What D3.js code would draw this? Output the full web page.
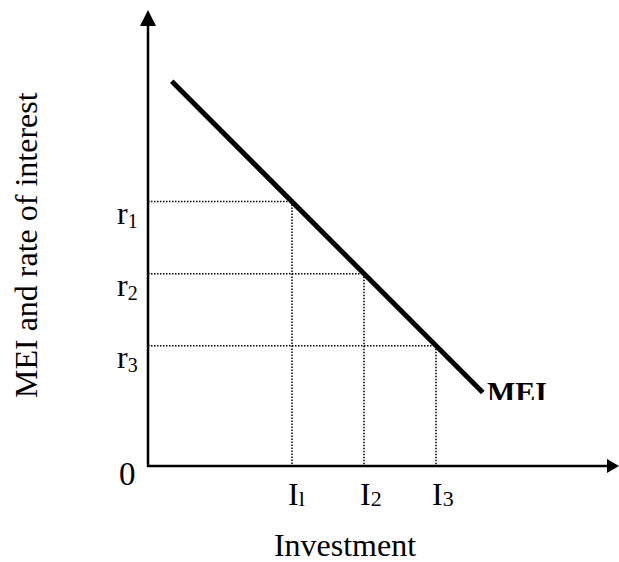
<!DOCTYPE html>
<html><head><meta charset="utf-8">
<script src="https://cdn.jsdelivr.net/npm/d3@7"></script>
<style>body{margin:0;background:#fff}svg{display:block}text{font-family:"Liberation Serif","Times New Roman",serif;fill:#000}</style>
</head><body>
<script>
// Data (abstract units)
const investLabels = ["I1","I2","I3"];
const investValues = [2, 3, 4];
const rateLabels = ["r1","r2","r3"];
const rateValues = [3.67, 2.67, 1.67];
const meiLine = [{inv:0.33, rate:5.34}, {inv:4.65, rate:1.02}];
const xTitle = "Investment";
const yTitle = "MEI and rate of interest";
const curveLabel = "MEI";

const W=619,H=562;
const svg=d3.select("body").append("svg").attr("width",W).attr("height",H);
const x=d3.scaleLinear().domain([0,6.5]).range([148,616]);
const y=d3.scaleLinear().domain([0,6.33]).range([466,10]);

// dotted guides
const pts = investValues.map((v,i)=>({inv:v, rate:rateValues[i]}));
svg.selectAll("line.h").data(pts).enter().append("line")
  .attr("x1",x(0)).attr("x2",d=>x(d.inv)).attr("y1",d=>y(d.rate)).attr("y2",d=>y(d.rate))
  .attr("stroke","#000").attr("stroke-width",1.5).attr("stroke-dasharray","1.5,1.5");
svg.selectAll("line.v").data(pts).enter().append("line")
  .attr("x1",d=>x(d.inv)).attr("x2",d=>x(d.inv)).attr("y1",d=>y(d.rate)).attr("y2",y(0))
  .attr("stroke","#000").attr("stroke-width",1.5).attr("stroke-dasharray","1.5,1.5");

// axes
svg.append("line").attr("x1",x(0)).attr("x2",x(0)).attr("y1",y(0)+1).attr("y2",24).attr("stroke","#000").attr("stroke-width",2.5);
svg.append("line").attr("x1",x(0)-1).attr("x2",608).attr("y1",y(0)).attr("y2",y(0)).attr("stroke","#000").attr("stroke-width",2.5);
svg.append("path").attr("d",`M${x(0)},10 L${x(0)-8},26 L${x(0)+8},26 Z`).attr("fill","#000");
svg.append("path").attr("d",`M619,${y(0)} L607,${y(0)-7} L607,${y(0)+7} Z`).attr("fill","#000");

// MEI line
svg.append("path").datum(meiLine)
  .attr("d",d3.line().x(d=>x(d.inv)).y(d=>y(d.rate)))
  .attr("stroke","#000").attr("stroke-width",5).attr("fill","none");

// MEI label (clipped as in reference)
svg.append("clipPath").attr("id","clip").append("rect").attr("x",480).attr("y",370).attr("width",120).attr("height",30);
svg.append("text").attr("x",487).attr("y",402).attr("font-size",30).attr("font-weight","bold")
  .attr("clip-path","url(#clip)").text(curveLabel);

// r labels
rateLabels.forEach((l,i)=>{
  const t=svg.append("text").attr("x",x(0)-31).attr("y",y(rateValues[i])+22).attr("font-size",32);
  t.append("tspan").text(l[0]);
  t.append("tspan").attr("font-size",20).attr("dy",4).text(l.slice(1));
});
// I labels
investLabels.forEach((l,i)=>{
  const t=svg.append("text").attr("x",x(investValues[i])-4).attr("y",505).attr("font-size",32);
  t.append("tspan").text(l[0]);
  t.append("tspan").attr("font-size",22).attr("dy",1).text(i===0?"l":l.slice(1));
});
// zero
svg.append("text").attr("x",119).attr("y",485).attr("font-size",33).text("0");
// titles
svg.append("text").attr("x",345).attr("y",556).attr("text-anchor","middle").attr("font-size",32).text(xTitle);
svg.append("text").attr("transform","translate(37,398) rotate(-90)").attr("font-size",32).text(yTitle);
</script>
</body></html>
